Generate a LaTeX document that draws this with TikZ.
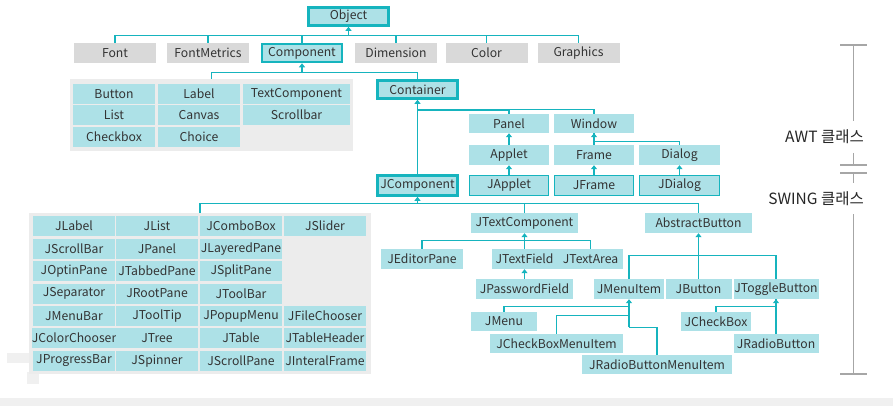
\documentclass[tikz,border=0pt]{standalone}
\usepackage{fontspec}
\setmainfont{Noto Sans CJK KR}
\usetikzlibrary{arrows.meta}
\definecolor{tealline}{HTML}{16B4BE}
\definecolor{tealfill}{HTML}{ADE1E7}
\definecolor{cellgray}{HTML}{D9D9D9}
\definecolor{bggray}{HTML}{ECECEC}
\definecolor{bandgray}{HTML}{F0F0F0}
\definecolor{txtgray}{HTML}{333333}
\definecolor{brkgray}{HTML}{A6A6A6}

\begin{document}
\begin{tikzpicture}[x=1pt,y=-1pt,
    cls/.style={fill=tealfill,text=txtgray,inner sep=0pt,minimum width=82pt,minimum height=20pt,font=\fontsize{12.2}{14}\selectfont},
    plainbox/.style={cls,fill=cellgray},
    keybox/.style={cls,draw=tealline,line width=2.6pt,minimum width=80pt,minimum height=18pt},
    jbox/.style={cls,draw=tealline,line width=1.2pt,minimum width=79pt,minimum height=20pt},
    groupbox/.style={fill=bggray,inner sep=0pt},
    lnk/.style={draw=tealline,line width=1.3pt},
    arr/.style={lnk,-{Triangle[width=6pt,length=4pt]}},
    brk/.style={draw=brkgray,line width=1.3pt},
    sect/.style={anchor=east,inner sep=0pt,text=black!85,font=\fontsize{15.5}{17}\selectfont}]
    \useasboundingbox (0,0) rectangle (893,406);
    \fill[bandgray] (0,398) rectangle (893,406);
    \fill[bandgray] (7,353) rectangle (29,363);
    \fill[bandgray] (27,372) rectangle (39,384);

    % top rows
    \node[keybox] (Object) at (348.5,16.5) {Object};
    \node[plainbox] (Font) at (115,53) {Font};
    \node[plainbox] (FontMetrics) at (208,53) {FontMetrics};
    \node[keybox] (Component) at (302,53) {Component};
    \node[plainbox] (Dimension) at (396,53) {Dimension};
    \node[plainbox] (Color) at (486.5,53) {Color};
    \node[plainbox] (Graphics) at (578.5,53) {Graphics};

    % AWT components
    \node[groupbox,minimum width=283pt,minimum height=72pt] (awt) at (211.5,115) {};
    \node[cls] (Button) at (114,94) {Button};
    \node[cls] (Label) at (199,94) {Label};
    \node[cls,minimum width=107pt] (TextComponent) at (296.5,94) {TextComponent};
    \node[cls] (List) at (114,115) {List};
    \node[cls] (Canvas) at (199,115) {Canvas};
    \node[cls,minimum width=107pt] (Scrollbar) at (296.5,115) {Scrollbar};
    \node[cls] (Checkbox) at (114,137) {Checkbox};
    \node[cls] (Choice) at (199,137) {Choice};

    \node[keybox] (Container) at (417.5,89.5) {Container};
    \node[cls,minimum width=80pt,minimum height=19pt] (Panel) at (509,123.5) {Panel};
    \node[cls,minimum width=80pt,minimum height=19pt] (Window) at (594,123.5) {Window};
    \node[cls,minimum width=80pt] (Applet) at (509,155) {Applet};
    \node[cls,minimum width=80pt] (Frame) at (594,155) {Frame};
    \node[cls,minimum width=81pt] (Dialog) at (679.5,155) {Dialog};
    \node[jbox] (JApplet) at (509,185.5) {JApplet};
    \node[jbox] (JFrame) at (594,185.5) {JFrame};
    \node[jbox,minimum width=80pt] (JDialog) at (679.5,185.5) {JDialog};
    \node[keybox,minimum height=20pt] (JComponent) at (417.5,185.5) {JComponent};

    % Swing components
    \node[groupbox,minimum width=342pt,minimum height=161pt] (swing) at (200,293.5) {};
    \node[cls] (JLabel) at (74,226) {JLabel};
    \node[cls] (JList) at (157,226) {JList};
    \node[cls] (JComboBox) at (241,226) {JComboBox};
    \node[cls] (JSlider) at (325,226) {JSlider};
    \node[cls] (JScrollBar) at (74,249) {JScrollBar};
    \node[cls] (JPanel) at (157,249) {JPanel};
    \node[cls] (JLayeredPane) at (241,249) {JLayeredPane};
    \node[cls] (JOptinPane) at (74,271) {JOptinPane};
    \node[cls] (JTabbedPane) at (157,271) {JTabbedPane};
    \node[cls] (JSplitPane) at (241,271) {JSplitPane};
    \node[cls] (JSeparator) at (74,293.5) {JSeparator};
    \node[cls] (JRootPane) at (157,293.5) {JRootPane};
    \node[cls] (JToolBar) at (241,293.5) {JToolBar};
    \node[cls] (JMenuBar) at (74,316) {JMenuBar};
    \node[cls] (JToolTip) at (157,316) {JToolTip};
    \node[cls] (JPopupMenu) at (241,316) {JPopupMenu};
    \node[cls] (JFileChooser) at (325,316) {JFileChooser};
    \node[cls] (JColorChooser) at (74,338) {JColorChooser};
    \node[cls] (JTree) at (157,338) {JTree};
    \node[cls] (JTable) at (241,338) {JTable};
    \node[cls] (JTableHeader) at (325,338) {JTableHeader};
    \node[cls] (JProgressBar) at (74,361) {JProgressBar};
    \node[cls] (JSpinner) at (157,361) {JSpinner};
    \node[cls] (JScrollPane) at (241,361) {JScrollPane};
    \node[cls] (JInteralFrame) at (325,361) {JInteralFrame};

    \node[cls,minimum width=107pt] (JTextComponent) at (524.5,223) {JTextComponent};
    \node[cls,minimum width=107pt] (AbstractButton) at (698.5,223) {AbstractButton};
    \node[cls] (JEditorPane) at (422,259) {JEditorPane};
    \node[cls,minimum width=66pt] (JTextField) at (524.5,259) {JTextField};
    \node[cls,minimum width=65pt] (JTextArea) at (590.5,259) {JTextArea};
    \node[cls,minimum width=97pt] (JPasswordField) at (524.5,289) {JPasswordField};
    \node[cls,minimum width=70pt] (JMenuItem) at (629,289) {JMenuItem};
    \node[cls,minimum width=66pt] (JButton) at (698.5,289) {JButton};
    \node[cls,minimum width=85pt] (JToggleButton) at (776,289) {JToggleButton};
    \node[cls,minimum width=66pt,minimum height=19pt] (JMenu) at (504,321.5) {JMenu};
    \node[cls,minimum width=133pt,minimum height=19pt] (JCheckBoxMenuItem) at (556.5,343.5) {JCheckBoxMenuItem};
    \node[cls,minimum width=150pt,minimum height=19pt] (JRadioButtonMenuItem) at (657,364.5) {JRadioButtonMenuItem};
    \node[cls,minimum width=70pt,minimum height=19pt] (JCheckBox) at (716,321.5) {JCheckBox};
    \node[cls,minimum width=85pt,minimum height=19pt] (JRadioButton) at (776,343.5) {JRadioButton};

    % connectors
    \coordinate (bus1) at ([yshift=7pt]Font.north);
    \draw[lnk] (Font.north) -- (bus1) -| (Graphics.north);
    \draw[lnk] (FontMetrics.north) -- ++(0,-7);
    \draw[lnk] (Component.north) -- ++(0,-7);
    \draw[lnk] (Dimension.north) -- ++(0,-7);
    \draw[lnk] (Color.north) -- ++(0,-7);
    \draw[arr] (bus1 -| Object.south) -- (Object.south);

    \coordinate (bus2) at ([yshift=6pt]awt.north);
    \draw[lnk] (awt.north) -- (bus2) -| (Container.north);
    \draw[arr] (bus2 -| Component.south) -- (Component.south);

    \draw[lnk] (Panel.north) -- ++(0,-4) -| (Window.north);
    \draw[lnk] (Panel.north |- 0,110) -| (JComponent.north);
    \draw[arr] (JComponent.north) -- (Container.south);
    \draw[arr] (Applet.north) -- (Panel.south);
    \draw[lnk] (Dialog.north) -- ++(0,-3) -| (Window.south);
    \draw[arr] (Frame.north) -- (Window.south);
    \draw[arr] (JApplet.north) -- (Applet.south);
    \draw[arr] (JFrame.north) -- (Frame.south);
    \draw[arr] (JDialog.north) -- (Dialog.south);

    \coordinate (bus3) at ([yshift=9pt]swing.north);
    \draw[lnk] (swing.north) -- (bus3) -| (AbstractButton.north);
    \draw[lnk] (JTextComponent.north) -- ++(0,-9);
    \draw[arr] (bus3 -| JComponent.south) -- (JComponent.south);

    \draw[lnk] (JEditorPane.north) -- ++(0,-8) -| (JTextArea.north);
    \draw[arr] (JTextField.north) -- (JTextComponent.south);
    \draw[arr] (JPasswordField.north) -- (JTextField.south);

    \draw[lnk] (JMenuItem.north) -- ++(0,-23) -| (JToggleButton.north);
    \draw[arr] (JButton.north) -- (AbstractButton.south);

    \coordinate (mtrunk) at ([yshift=-28pt]JMenuItem.south);
    \draw[lnk] (JMenu.north) -- ++(0,-5) -| (mtrunk);
    \draw[lnk] (JCheckBoxMenuItem.north) -- ++(0,-18) -| (mtrunk);
    \draw[lnk] (JRadioButtonMenuItem.north) |- (mtrunk);
    \draw[arr] (mtrunk) -- (JMenuItem.south);

    \draw[lnk] (JCheckBox.north) -- ++(0,-5) -| (JToggleButton.south);
    \draw[arr] (JRadioButton.north) -- (JToggleButton.south);

    % AWT / SWING bracket
    \node[sect] (awtlbl) at (864,137) {AWT 클래스};
    \node[sect] (swinglbl) at (864,199) {SWING 클래스};
    \draw[brk] (840,45) -- (867,45) (853.5,45) -- (853.5,121);
    \draw[brk] (853.5,153) -- (853.5,165) (840,165) -- (867,165);
    \draw[brk] (840,173) -- (867,173) (853.5,173) -- (853.5,183);
    \draw[brk] (853.5,214) -- (853.5,374) (840,374) -- (867,374);
  \end{tikzpicture}
\end{document}
